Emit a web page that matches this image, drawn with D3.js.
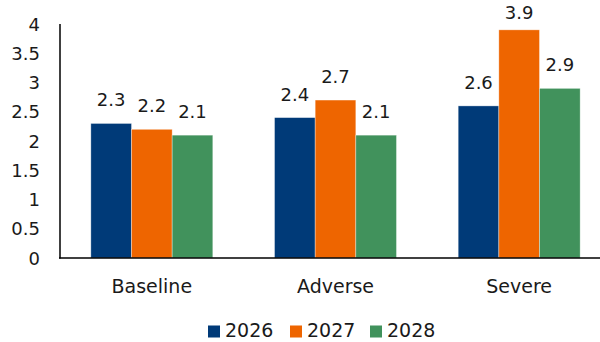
<!DOCTYPE html>
<html><head><meta charset="utf-8">
<script src="https://cdn.jsdelivr.net/npm/d3@7"></script>
<style>body{margin:0;background:#fff}svg text{font-family:"DejaVu Sans",sans-serif;fill:#1a1a1a}</style>
</head><body>
<svg id="c" width="600" height="342"></svg>
<script>
const categories = ["Baseline", "Adverse", "Severe"];
const seriesNames = ["2026", "2027", "2028"];
const values2026 = [2.3, 2.4, 2.6];
const values2027 = [2.2, 2.7, 3.9];
const values2028 = [2.1, 2.1, 2.9];
const colors = ["#003A78", "#EE6500", "#41925C"];
const yTicks = [0, 0.5, 1, 1.5, 2, 2.5, 3, 3.5, 4];
const seriesValues = [values2026, values2027, values2028];

const svg = d3.select("#c");
const x = d3.scaleBand().domain(categories).range([60, 611]).paddingInner(0.336).paddingOuter(0.168);
const xs = d3.scaleBand().domain(seriesNames).range([0, x.bandwidth()]);
const y = d3.scaleLinear().domain([0, 4]).range([258, 24]);

// y axis labels
svg.append("g").selectAll("text").data(yTicks).join("text")
  .attr("x", 40).attr("y", d => y(d) + 6.5)
  .attr("text-anchor", "end").attr("font-size", 18)
  .text(d => d3.format("")(d));

const g = svg.append("g");
categories.forEach((c, ci) => {
  seriesNames.forEach((s, si) => {
    const v = seriesValues[si][ci];
    g.append("rect")
      .attr("x", x(c) + xs(s)).attr("width", xs.bandwidth())
      .attr("y", y(v)).attr("height", y(0) - y(v))
      .attr("fill", colors[si]).attr("stroke", "#ffffff").attr("stroke-opacity", 0.5).attr("stroke-width", 0.7);
    g.append("text")
      .attr("x", x(c) + xs(s) + xs.bandwidth() / 2).attr("y", Math.max(y(v) - 17, 19))
      .attr("text-anchor", "middle").attr("font-size", 18)
      .text(d3.format(".1f")(v));
  });
  svg.append("text").attr("x", x(c) + x.bandwidth() / 2).attr("y", 293)
    .attr("text-anchor", "middle").attr("font-size", 19).text(c);
});

// axes lines
svg.append("line").attr("x1", 60).attr("x2", 60).attr("y1", y(4)).attr("y2", y(0) + 0.5)
  .attr("stroke", "#000").attr("stroke-width", 1.5);
svg.append("line").attr("x1", 59).attr("x2", 611).attr("y1", y(0)).attr("y2", y(0))
  .attr("stroke", "#000").attr("stroke-width", 1.5);

// legend
const legendX = [208, 290, 370];
seriesNames.forEach((s, i) => {
  svg.append("rect").attr("x", legendX[i]).attr("y", 325.5).attr("width", 12).attr("height", 12).attr("fill", colors[i]);
  svg.append("text").attr("x", legendX[i] + 17).attr("y", 337)
    .attr("font-size", 19).text(s);
});
</script>
</body></html>
